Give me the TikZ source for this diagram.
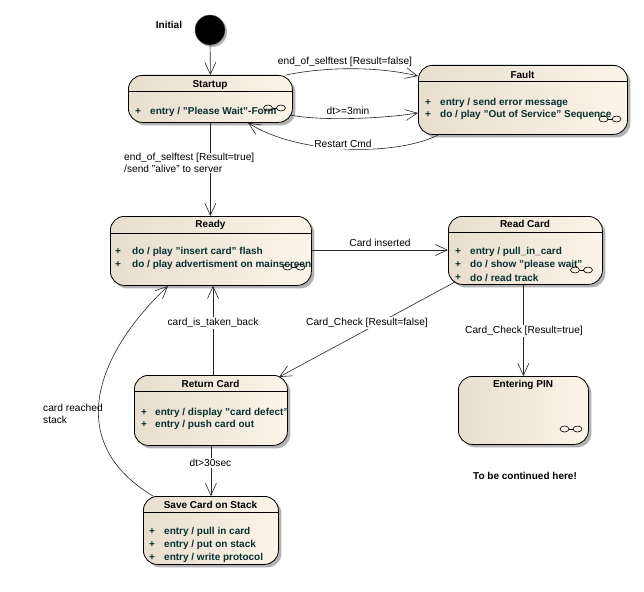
\documentclass[tikz,border=0pt]{standalone}
\usepackage{fontspec}
\setmainfont{Liberation Sans}
\usetikzlibrary{arrows.meta,shadows}
\definecolor{boxL}{RGB}{232,222,206}
\definecolor{boxR}{RGB}{251,244,232}
\definecolor{entc}{RGB}{8,48,48}
\newcommand\decompicon[2]{%
  \draw[line width=0.6pt] (#1-6.5,#2) ellipse (4.5 and 3);
  \draw[line width=0.6pt] (#1+6.5,#2) ellipse (4.5 and 3);
  \draw[line width=0.6pt] (#1-2,#2) -- (#1+2,#2);}
\begin{document}
\begin{tikzpicture}[x=1pt,y=-1pt,
  statebox/.style={draw=black, line width=0.8pt, rounded corners=14pt,
    left color=boxL, right color=boxR, anchor=north west, inner sep=0pt,
    general shadow={fill=black!30, shadow xshift=3pt, shadow yshift=-3pt}},
  hline/.style={draw=black, line width=0.8pt},
  title/.style={font=\bfseries\fontsize{10}{12}\selectfont, inner sep=0pt},
  entry/.style={font=\bfseries\fontsize{10}{12}\selectfont, text=entc, inner sep=0pt, anchor=west},
  lab/.style={font=\fontsize{10.2}{12.5}\selectfont, inner sep=1pt},
  lbw/.style={lab, fill=white},
  trans/.style={draw=black!85, line width=0.6pt, -{Straight Barb[length=12pt,width=11pt]}}]
\useasboundingbox (0,0) rectangle (644,591);
\fill[white] (0,0) rectangle (644,591);

% initial
\node[circle, fill=black, draw=black!60, minimum size=30pt, inner sep=0pt,
  general shadow={fill=black!30, shadow xshift=2pt, shadow yshift=-2pt}] (init) at (210,30) {};
\node[title] (linit) at (169,25) {Initial};

% Startup
\node[statebox, minimum width=164pt, minimum height=47pt] (startup) at (128,75) {};
\draw[hline] ([yshift=-16pt]startup.north west) -- ([yshift=-16pt]startup.north east);
\node[title] (tstartup) at (210,85) {Startup};
\node[entry] (s1p) at (135,112) {+};
\node[entry] (s1) at (150,112) {entry / "Please Wait"-Form};
\decompicon{274.5}{108}

% Fault
\node[statebox, minimum width=209pt, minimum height=69pt] (fault) at (418,65) {};
\draw[hline] ([yshift=-16pt]fault.north west) -- ([yshift=-16pt]fault.north east);
\node[title] (tfault) at (522.5,75) {Fault};
\node[entry] (f1p) at (425,103) {+};
\node[entry] (f1) at (440,103) {entry / send error message};
\node[entry] (f2p) at (425,114.5) {+};
\node[entry] (f2) at (440,114.5) {do / play "Out of Service" Sequence};
\decompicon{610}{119}

% Ready
\node[statebox, minimum width=201pt, minimum height=69pt] (ready) at (110,216) {};
\draw[hline] ([yshift=-17pt]ready.north west) -- ([yshift=-17pt]ready.north east);
\node[title] (tready) at (210.5,225) {Ready};
\node[entry] (r1p) at (115,252) {+};
\node[entry] (r1) at (132,252) {do / play "insert card" flash};
\node[entry] (r2p) at (115,265) {+};
\node[entry] (r2) at (132,265) {do / play advertisment on mainscreen};
\decompicon{294}{267}

% Read Card
\node[statebox, minimum width=154pt, minimum height=68pt] (readcard) at (448,216) {};
\draw[hline] ([yshift=-16pt]readcard.north west) -- ([yshift=-16pt]readcard.north east);
\node[title] (treadcard) at (525,224) {Read Card};
\node[entry] (c1p) at (455,252) {+};
\node[entry] (c1) at (470,252) {entry / pull\_in\_card};
\node[entry] (c2p) at (455,264.5) {+};
\node[entry] (c2) at (470,264.5) {do / show "please wait"};
\node[entry] (c3p) at (455,278) {+};
\node[entry] (c3) at (470,278) {do / read track};
\decompicon{581.5}{270}

% Return Card
\node[statebox, minimum width=153pt, minimum height=70pt] (retcard) at (134,375) {};
\draw[hline] ([yshift=-16pt]retcard.north west) -- ([yshift=-16pt]retcard.north east);
\node[title] (tretcard) at (210.5,384) {Return Card};
\node[entry] (t1p) at (141,413) {+};
\node[entry] (t1) at (155,413) {entry / display "card defect"};
\node[entry] (t2p) at (141,425) {+};
\node[entry] (t2) at (155,425) {entry / push card out};

% Save Card on Stack
\node[statebox, minimum width=135pt, minimum height=68pt] (savecard) at (143,496) {};
\draw[hline] ([yshift=-16pt]savecard.north west) -- ([yshift=-16pt]savecard.north east);
\node[title] (tsavecard) at (210.5,505) {Save Card on Stack};
\node[entry] (v1p) at (149,532) {+};
\node[entry] (v1) at (164,532) {entry / pull in card};
\node[entry] (v2p) at (149,545) {+};
\node[entry] (v2) at (164,545) {entry / put on stack};
\node[entry] (v3p) at (149,558) {+};
\node[entry] (v3) at (164,558) {entry / write protocol};

% Entering PIN
\node[statebox, minimum width=130pt, minimum height=68pt] (pin) at (458,376) {};
\node[title] (tpin) at (523,385) {Entering PIN};
\decompicon{571}{429}

\node[title] (lcont) at (525,476) {To be continued here!};

% transitions
\draw[trans] (init) -- (startup.north);
\draw[trans] ([xshift=-7pt]startup.north east) .. controls (330,66) and (380,67) .. ([yshift=-11pt]fault.north west);
\node[lab] (lfalse) at (345,62) {end\_of\_selftest [Result=false]};
\draw[trans] (290,115) .. controls (320,121) and (380,119) .. (fault.west |- 0,113);
\node[lab] (l3min) at (348,111) {dt>=3min};
\draw[trans] (440,134) .. controls (400,156) and (300,156) .. (startup.south -| 248,0);
\node[lbw] (lrestart) at (343,144) {Restart Cmd};

\draw[trans] (startup.south) -- (startup.south |- ready.north);
\node[lbw, align=left, anchor=west, inner sep=0pt] (ltrue) at (124,163) {end\_of\_selftest [Result=true]\\/send "alive" to server};

\draw[trans] (ready.east |- 0,250) -- (readcard.west |- 0,250);
\node[lab] (linserted) at (380,243) {Card inserted};

\draw[trans] (455,282) -- (279,377);
\node[lbw] (lccf) at (367,323) {Card\_Check [Result=false]};

\draw[trans] (readcard.south -| pin.north) -- (pin.north);
\node[lbw] (lcct) at (524,331) {Card\_Check [Result=true]};

\draw[trans] (retcard.north -| 213,0) -- (ready.south -| 213,0);
\node[lbw] (ltaken) at (213,323) {card\_is\_taken\_back};

\draw[trans] (retcard.south) -- (savecard.north);
\node[lbw] (l30) at (210.5,463) {dt>30sec};

\draw[trans] (153,496) .. controls (60,440) and (100,350) .. (168,286);
\node[lab, align=left, anchor=west, inner sep=0pt] (lstack) at (43,414) {card reached\\stack};
\end{tikzpicture}
\end{document}
